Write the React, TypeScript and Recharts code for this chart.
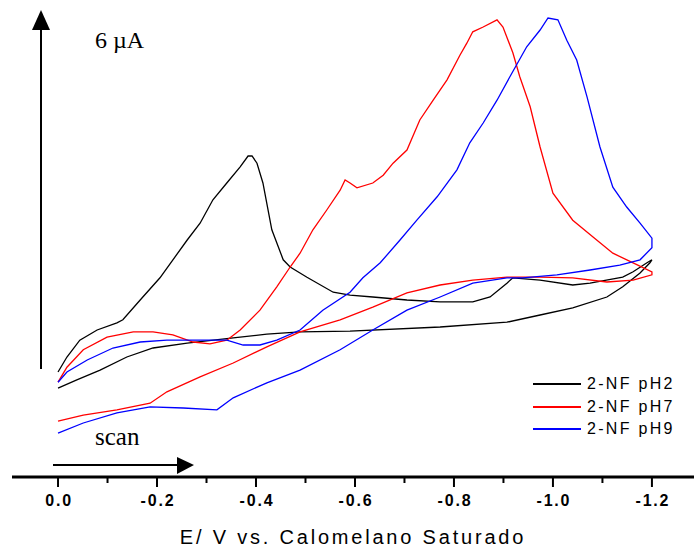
import { Line, LineChart, XAxis, YAxis } from "recharts";

// cyclic voltammograms: forward scan 0 -> -1.2 V, then back to 0 V
// each point is [E (V), I (µA, arbitrary offset)]
const PH2: [number, number][] = [
  [0, 1.75], [-0.018, 2.0], [-0.044, 2.28], [-0.079, 2.45], [-0.119, 2.57], [-0.131, 2.62],
  [-0.166, 2.95], [-0.206, 3.32], [-0.261, 3.95], [-0.287, 4.23], [-0.313, 4.62], [-0.341, 4.9],
  [-0.368, 5.17], [-0.384, 5.35], [-0.392, 5.35], [-0.402, 5.23], [-0.414, 4.9], [-0.432, 4.12],
  [-0.455, 3.62], [-0.469, 3.5], [-0.503, 3.33], [-0.556, 3.08], [-0.59, 3.03], [-0.636, 3.0],
  [-0.705, 2.95], [-0.772, 2.92], [-0.838, 2.92], [-0.873, 3.0], [-0.907, 3.23], [-0.919, 3.32],
  [-0.974, 3.28], [-1.04, 3.2], [-1.075, 3.23], [-1.141, 3.33], [-1.162, 3.42], [-1.19, 3.57],
  [-1.2, 3.62],
  [-1.196, 3.57], [-1.176, 3.4], [-1.141, 3.17], [-1.109, 3.0], [-1.04, 2.82], [-0.974, 2.7],
  [-0.907, 2.58], [-0.772, 2.5], [-0.59, 2.43], [-0.489, 2.42], [-0.422, 2.38], [-0.354, 2.32],
  [-0.261, 2.23], [-0.192, 2.15], [-0.139, 2.0], [-0.085, 1.78], [-0.038, 1.62], [0, 1.48]
];

const PH7: [number, number][] = [
  [0, 1.58], [-0.018, 1.83], [-0.051, 2.12], [-0.099, 2.33], [-0.152, 2.42], [-0.192, 2.42],
  [-0.232, 2.37], [-0.273, 2.25], [-0.307, 2.22], [-0.341, 2.28], [-0.368, 2.45], [-0.408, 2.78],
  [-0.442, 3.17], [-0.469, 3.5], [-0.489, 3.73], [-0.515, 4.12], [-0.543, 4.45], [-0.57, 4.78],
  [-0.58, 4.95], [-0.59, 4.9], [-0.604, 4.82], [-0.636, 4.9], [-0.657, 5.03], [-0.677, 5.23],
  [-0.705, 5.45], [-0.731, 5.95], [-0.758, 6.28], [-0.786, 6.62], [-0.812, 7.03], [-0.826, 7.23],
  [-0.838, 7.42], [-0.859, 7.5], [-0.887, 7.62], [-0.899, 7.5], [-0.919, 7.07], [-0.933, 6.67],
  [-0.954, 6.17], [-0.974, 5.5], [-1.0, 4.73], [-1.04, 4.28], [-1.081, 4.0], [-1.121, 3.73],
  [-1.162, 3.57], [-1.2, 3.42],
  [-1.2, 3.37], [-1.162, 3.28], [-1.109, 3.25], [-1.04, 3.32], [-0.974, 3.33], [-0.907, 3.33],
  [-0.838, 3.28], [-0.772, 3.2], [-0.705, 3.07], [-0.636, 2.83], [-0.57, 2.62], [-0.489, 2.42],
  [-0.422, 2.17], [-0.354, 1.9], [-0.287, 1.67], [-0.22, 1.42], [-0.186, 1.23], [-0.119, 1.12],
  [-0.051, 1.03], [0, 0.93]
];

const PH9: [number, number][] = [
  [0, 1.58], [-0.018, 1.75], [-0.059, 1.95], [-0.111, 2.15], [-0.166, 2.25], [-0.22, 2.28],
  [-0.287, 2.28], [-0.341, 2.28], [-0.374, 2.2], [-0.408, 2.2], [-0.442, 2.28], [-0.489, 2.45],
  [-0.535, 2.78], [-0.59, 3.08], [-0.616, 3.32], [-0.651, 3.57], [-0.691, 3.95], [-0.725, 4.28],
  [-0.766, 4.67], [-0.806, 5.12], [-0.832, 5.57], [-0.859, 5.9], [-0.887, 6.28], [-0.913, 6.67],
  [-0.947, 7.17], [-0.974, 7.45], [-0.99, 7.65], [-1.01, 7.62], [-1.028, 7.28], [-1.048, 6.95],
  [-1.069, 6.33], [-1.095, 5.5], [-1.121, 4.83], [-1.149, 4.5], [-1.176, 4.23], [-1.2, 3.98],
  [-1.2, 3.82], [-1.176, 3.62], [-1.135, 3.53], [-1.075, 3.45], [-1.008, 3.37], [-0.939, 3.32],
  [-0.907, 3.32], [-0.838, 3.23], [-0.772, 3.0], [-0.705, 2.78], [-0.636, 2.45], [-0.57, 2.12],
  [-0.489, 1.78], [-0.422, 1.57], [-0.354, 1.32], [-0.321, 1.12], [-0.253, 1.15], [-0.186, 1.17],
  [-0.119, 1.07], [-0.051, 0.9], [0, 0.73]
];

const SERIES = [
  { name: "2-NF pH2", color: "#000000", points: PH2 },
  { name: "2-NF pH7", color: "#ff0000", points: PH7 },
  { name: "2-NF pH9", color: "#0000ff", points: PH9 }
];

const X_TICKS = [0, -0.1, -0.2, -0.3, -0.4, -0.5, -0.6, -0.7, -0.8, -0.9, -1.0, -1.1, -1.2];
const MAJOR_LABELS: Record<string, string> = {
  "0": "0.0", "-0.2": "-0.2", "-0.4": "-0.4", "-0.6": "-0.6",
  "-0.8": "-0.8", "-1": "-1.0", "-1.2": "-1.2"
};

const SANS = "'Liberation Sans', Arial, sans-serif";
const SERIF = "'Liberation Serif', 'Times New Roman', serif";
const AXIS_Y = 477;

function XTick(props: any) {
  const { x, payload } = props;
  const label = MAJOR_LABELS[String(Number(payload.value.toFixed(1)))];
  return (
    <g>
      <line x1={x} x2={x} y1={AXIS_Y} y2={label ? AXIS_Y + 10 : AXIS_Y + 6} stroke="#000" strokeWidth={2} />
      {label && (
        <text
          x={x + 1}
          y={506}
          textAnchor="middle"
          fontFamily={SANS}
          fontSize={16}
          fontWeight="bold"
          letterSpacing={1.8}
          fill="#000"
        >
          {label}
        </text>
      )}
    </g>
  );
}

function LegendBox() {
  return (
    <div style={{ position: "absolute", left: 533, top: 373, fontFamily: SANS }}>
      {SERIES.map((s) => (
        <div key={s.name} style={{ display: "flex", alignItems: "center", height: 22.5 }}>
          <div style={{ width: 48, height: 2, background: s.color, marginRight: 6 }} />
          <span style={{ fontSize: 16, letterSpacing: 2.3, color: "#000", whiteSpace: "nowrap" }}>{s.name}</span>
        </div>
      ))}
    </div>
  );
}

export default function App() {
  return (
    <div style={{ position: "absolute", left: 0, top: 0, width: 694, height: 550, background: "#fff" }}>
      <LineChart width={694} height={550} margin={{ top: 9, right: 0, left: 12, bottom: 0 }}>
        <XAxis
          dataKey="e"
          type="number"
          reversed
          height={73}
          domain={[-1.285, 0.093]}
          allowDataOverflow
          ticks={X_TICKS}
          interval={0}
          tick={<XTick />}
          tickLine={false}
          axisLine={{ stroke: "#000", strokeWidth: 3 }}
        />
        <YAxis hide type="number" domain={[0, 7.8]} allowDataOverflow />
        {SERIES.map((s) => (
          <Line
            key={s.name}
            name={s.name}
            data={s.points.map(([e, i]) => ({ e, i }))}
            dataKey="i"
            type="linear"
            stroke={s.color}
            strokeWidth={1.3}
            dot={false}
            activeDot={false}
            isAnimationActive={false}
          />
        ))}
      </LineChart>
      <LegendBox />
      <svg width={694} height={550} style={{ position: "absolute", left: 0, top: 0, pointerEvents: "none" }}>
        <line x1={41} x2={41} y1={369} y2={26} stroke="#000" strokeWidth={2} />
        <polygon points="41,10 32,30 50,30" fill="#000" />
        <text x={95} y={48} fontFamily={SERIF} fontSize={24} fill="#000">6 µA</text>
        <text x={95} y={445} fontFamily={SERIF} fontSize={25} fill="#000">scan</text>
        <line x1={53} x2={180} y1={465} y2={465} stroke="#000" strokeWidth={2} />
        <polygon points="194,465 177,457 177,474" fill="#000" />
        <text x={353} y={544} textAnchor="middle" fontFamily={SANS} fontSize={20} letterSpacing={2.8} fill="#000">
          E/ V vs. Calomelano Saturado
        </text>
      </svg>
    </div>
  );
}
